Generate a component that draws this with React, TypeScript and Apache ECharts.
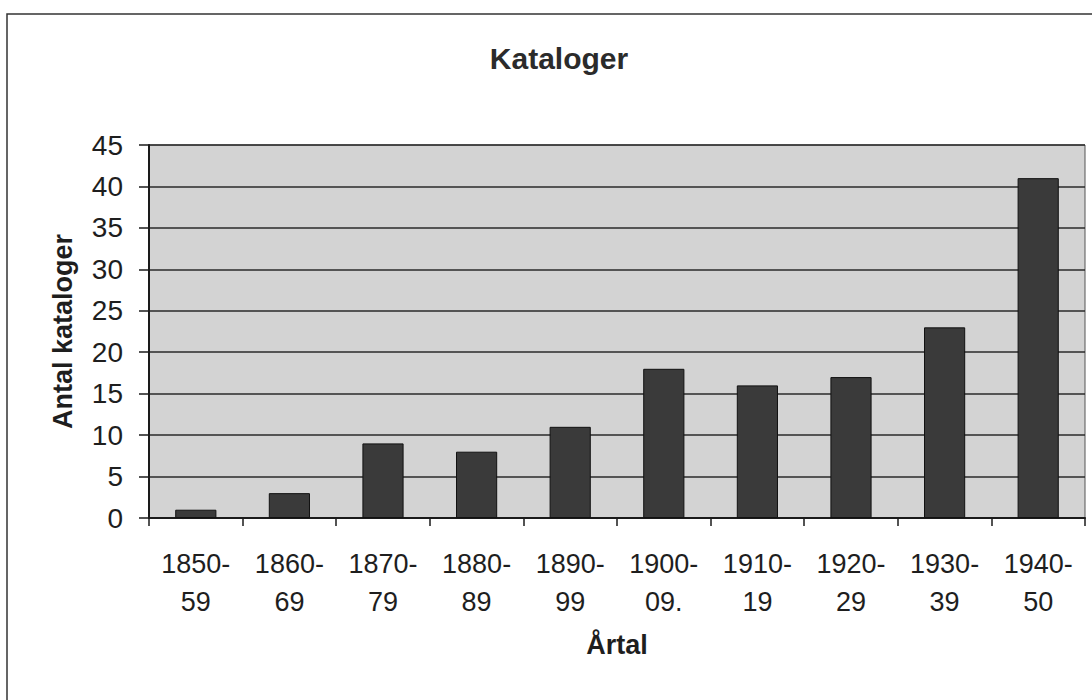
import React, { useEffect, useRef } from "react";
import * as echarts from "echarts";

const categories = ["1850-\n59", "1860-\n69", "1870-\n79", "1880-\n89", "1890-\n99", "1900-\n09.", "1910-\n19", "1920-\n29", "1930-\n39", "1940-\n50"];
const counts = [1, 3, 9, 8, 11, 18, 16, 17, 23, 41];
const titleText = "Kataloger";
const yName = "Antal kataloger";
const xName = "Årtal";

const FONT = "'Liberation Sans', Arial, Helvetica, sans-serif";

export default function App() {
  const ref = useRef<HTMLDivElement>(null);
  useEffect(() => {
    if (!ref.current) return;
    const chart = echarts.init(ref.current, undefined, { renderer: "svg" });
    chart.setOption({
      animation: false,
      backgroundColor: "#ffffff",
      title: {
        text: titleText,
        left: 554,
        top: 38,
        textAlign: "center",
        textStyle: { fontFamily: FONT, fontSize: 30, fontWeight: "bold", color: "#2b2b2b" },
      },
      graphic: [
        {
          type: "rect",
          shape: { x: 7, y: 14, width: 1200, height: 800 },
          style: { fill: "none", stroke: "#333", lineWidth: 1.5 },
          silent: true,
        },
      ],
      grid: { left: 149, right: 7, top: 145, bottom: 182, show: true, backgroundColor: "#d3d3d3", borderColor: "#555", borderWidth: 1 },
      xAxis: {
        type: "category",
        data: categories,
        name: xName,
        nameLocation: "middle",
        nameGap: 113,
        nameTextStyle: { fontFamily: FONT, fontSize: 27, fontWeight: "bold", color: "#1e1e1e" },
        axisLine: { lineStyle: { color: "#1a1a1a", width: 2 } },
        axisTick: { show: true, length: 8, lineStyle: { color: "#1a1a1a", width: 1.5 } },
        axisLabel: { fontFamily: FONT, fontSize: 27, color: "#1e1e1e", lineHeight: 38, margin: 27, interval: 0 },
      },
      yAxis: {
        type: "value",
        min: 0,
        max: 45,
        interval: 5,
        name: yName,
        nameLocation: "middle",
        nameGap: 73,
        nameTextStyle: { fontFamily: FONT, fontSize: 27, fontWeight: "bold", color: "#1e1e1e" },
        axisLine: { show: true, lineStyle: { color: "#1a1a1a", width: 2 } },
        axisTick: { show: true, length: 10, lineStyle: { color: "#1a1a1a", width: 1.5 } },
        axisLabel: { fontFamily: FONT, fontSize: 28, color: "#1e1e1e", margin: 26 },
        splitLine: { show: true, lineStyle: { color: "#2a2a2a", width: 1.5 } },
      },
      series: [
        {
          type: "bar",
          data: counts,
          barCategoryGap: "56%",
          itemStyle: { color: "#3a3a3a", borderColor: "#111", borderWidth: 1 },
        },
      ],
    });
    return () => chart.dispose();
  }, []);
  return <div ref={ref} style={{ position: "absolute", left: 0, top: 0, width: 1092, height: 700 }} />;
}
